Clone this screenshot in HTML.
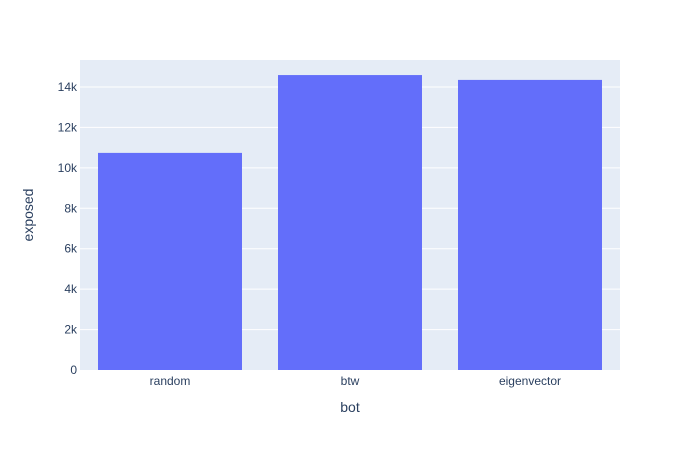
<!DOCTYPE html>
<html><head><meta charset="utf-8"><style>
body{margin:0;background:#fff;font-family:"Liberation Sans",sans-serif;}
svg text{font-family:"Liberation Sans",sans-serif;fill:#2a3f5f;}
</style></head><body>
<svg id="chart" width="700" height="450">
<rect x="80" y="60" width="540" height="310" fill="#e5ecf6"/>
<g id="grid"></g><g id="bars"></g><g id="xt"></g><g id="yt"></g>
<text x="350" y="412" font-size="14" text-anchor="middle">bot</text>
<text transform="translate(33,215) rotate(-90)" font-size="14" text-anchor="middle">exposed</text>
</svg>
<script>
const categories=["random","btw","eigenvector"];
const values=[10740,14590,14350];
const yTicks=[0,2000,4000,6000,8000,10000,12000,14000];
const yTickLabels=["0","2k","4k","6k","8k","10k","12k","14k"];
const NS="http://www.w3.org/2000/svg";
const L=80,R=620,T=60,B=370,yMax=15335;
const y=v=>B-(v/yMax)*(B-T);
const band=(R-L)/categories.length;
const x=i=>L+band*i+band/2;
function mk(tag,attrs,parent){const e=document.createElementNS(NS,tag);for(const k in attrs)e.setAttribute(k,attrs[k]);document.getElementById(parent).appendChild(e);return e;}
yTicks.forEach((t,i)=>{
 if(t>0){const g=mk('line',{x1:L,x2:R,y1:y(t),y2:y(t),stroke:'#fff','stroke-width':1},'grid');
 
 }
 const tx=mk('text',{x:L-3,y:y(t)+4,'font-size':12,'text-anchor':'end'},'yt');
 tx.textContent=yTickLabels[i];
 
 
});
categories.forEach((c,i)=>{
 const bw=band*0.8;
 const r=mk('rect',{x:x(i)-bw/2,y:y(values[i]),width:bw,height:B-y(values[i]),fill:'#636efa'},'bars');
 
 
 const tx=mk('text',{x:x(i),y:B+15,'font-size':12,'text-anchor':'middle'},'xt');
 tx.textContent=c;
 
 
});
</script>
</body></html>
